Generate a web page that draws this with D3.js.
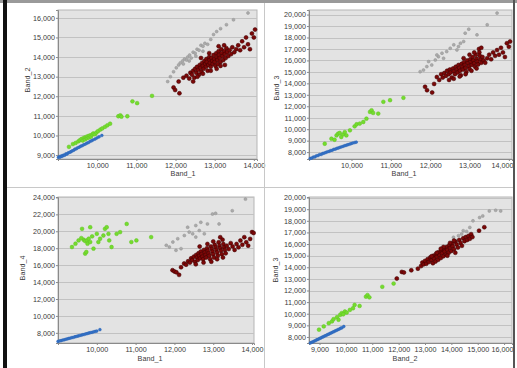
<!DOCTYPE html>
<html>
<head>
<meta charset="utf-8">
<script src="https://cdn.jsdelivr.net/npm/d3@7"></script>
<style>
  html, body { margin: 0; padding: 0; background: #fff; }
  svg { display: block; font-family: "Liberation Sans", Arial, sans-serif; }
</style>
</head>
<body>
<svg id="chart" width="517" height="368"></svg>
<script>
// ---- data: [x, y] pairs ----
// Panel 1: Band_1 vs Band_2
const p1Blue = [[9010,8880],[9040,8920],[9060,8900],[9090,8960],[9110,8940],[9140,9000],[9170,8990],[9200,9060],[9230,9050],[9260,9110],[9300,9140],[9330,9170],[9360,9210],[9400,9240],[9430,9300],[9470,9320],[9500,9370],[9540,9400],[9580,9450],[9620,9480],[9660,9530],[9700,9560],[9740,9610],[9780,9640],[9820,9700],[9860,9730],[9900,9780],[9950,9820],[10000,9880],[10050,9930],[10120,10000]];
const p1Green = [[9280,9420],[9380,9560],[9450,9620],[9520,9700],[9560,9760],[9600,9820],[9630,9740],[9660,9880],[9690,9800],[9710,9920],[9740,9860],[9760,9960],[9790,9900],[9810,10000],[9840,9940],[9870,10040],[9900,10100],[9940,10060],[9980,10150],[10020,10220],[10080,10300],[10130,10360],[10200,10440],[10260,10520],[10330,10600],[10540,10980],[10590,11030],[10620,10960],[10770,10980],[10900,11740],[11020,11650],[11400,12020]];
const p1Gray = [[11800,12750],[11870,13000],[11950,13250],[12020,13450],[12080,13600],[12120,13700],[12180,13800],[12230,13900],[12280,13850],[12310,14000],[12360,14100],[12400,13950],[12450,14250],[12500,14200],[12550,14400],[12600,14350],[12650,14600],[12700,14550],[12750,14700],[12820,14650],[12900,14900],[12970,15150],[13050,15300],[13150,15450],[13300,15650],[13480,15900],[13850,16250],[12200,13650],[12350,13800],[12520,14050],[12700,14300]];
const p1Red = [[11950,12450],[11990,12320],[12100,12150],[12080,12750],[12200,12950],[12280,13050],[12350,12900],[12380,13200],[12420,13100],[12450,13300],[12480,12950],[12500,13400],[12530,13200],[12550,13500],[12580,13350],[12600,13100],[12620,13600],[12640,13450],[12660,13250],[12680,13700],[12700,13550],[12720,13400],[12740,13800],[12760,13650],[12780,13500],[12790,13900],[12800,13750],[12820,13300],[12840,13600],[12860,14000],[12870,13850],[12880,13700],[12900,13500],[12920,13950],[12940,13800],[12950,13650],[12970,14100],[12990,13900],[13000,13750],[13020,13550],[13040,14200],[13050,14000],[13070,13850],[13080,13650],[13100,14300],[13110,14100],[13130,13950],[13150,13750],[13170,14400],[13180,14200],[13200,14050],[13220,13850],[13240,14600],[13250,14300],[13260,14150],[13280,13950],[13300,14450],[13320,14250],[13350,14050],[13380,14350],[13420,14150],[13450,14500],[13500,14250],[13550,14400],[13600,14600],[13650,14350],[13700,14800],[13750,14500],[13800,15000],[13850,14650],[13900,14400],[13950,15200],[14000,15000],[14030,15400],[12560,13000],[12700,13150],[12900,13300],[13050,13400],[13150,13550],[12450,12750],[13260,13600],[13100,14550],[12860,14200],[12650,13950]];

// Panel 2: Band_1 vs Band_3
const p2Blue = [[8950,7450],[8990,7480],[9030,7570],[9070,7580],[9110,7680],[9150,7700],[9190,7790],[9230,7800],[9270,7880],[9310,7920],[9350,7970],[9390,8030],[9430,8060],[9470,8130],[9510,8160],[9550,8240],[9590,8260],[9630,8330],[9670,8360],[9710,8420],[9750,8460],[9790,8510],[9830,8560],[9870,8600],[9910,8650],[9950,8690],[9990,8740],[10030,8790],[10080,8830],[10120,8870]];
const p2Green = [[9320,8730],[9490,9170],[9570,9080],[9620,9460],[9660,9610],[9700,9670],[9740,9320],[9790,9550],[9830,9750],[9870,9460],[9960,9900],[10080,10250],[10130,10430],[10210,10490],[10300,10630],[10380,10920],[10470,11510],[10510,11650],[10550,11420],[10680,11360],[10810,12390],[10980,12530],[11320,12740]];
const p2Gray = [[11745,15020],[11830,15160],[11915,15460],[11960,15900],[12040,15600],[12130,16040],[12210,16330],[12300,16630],[12340,16190],[12420,16770],[12510,17060],[12600,17360],[12680,16920],[12770,17500],[12850,17650],[12890,18380],[12980,18730],[13190,18230],[13450,19110],[13700,20130],[12720,17210],[12170,16480]];
const p2Red = [[11870,13700],[11920,13400],[12050,13200],[12100,13950],[12170,14550],[12230,14300],[12280,14800],[12320,14500],[12360,14900],[12400,14650],[12430,15100],[12470,14800],[12500,15200],[12520,14950],[12550,14500],[12580,15300],[12600,15050],[12630,14800],[12650,15450],[12680,15200],[12700,14950],[12720,15600],[12740,15350],[12760,15100],[12780,14700],[12800,15700],[12820,15450],[12840,15200],[12860,15850],[12880,15600],[12900,15350],[12920,15000],[12940,16000],[12960,15750],[12980,15500],[13000,15250],[13020,16100],[13040,15850],[13060,15600],[13080,16300],[13100,16000],[13120,15750],[13140,15450],[13160,16500],[13180,16150],[13200,15900],[13220,15650],[13240,17000],[13250,16700],[13260,16400],[13280,16100],[13300,15800],[13330,16300],[13360,16000],[13400,15800],[13450,16200],[13500,16500],[13550,16100],[13600,16700],[13650,16400],[13700,16900],[13750,16500],[13800,17100],[13850,16700],[13900,16300],[13950,17500],[14000,17200],[14030,17650],[12600,14400],[12750,14600],[12900,14800],[13050,15100],[13180,15300],[12480,14300],[12850,16200],[13000,16500],[13120,16700],[13300,17100]];

// Panel 3: Band_1 vs Band_4
const p3Blue = [[9000,6980],[9040,7040],[9080,7080],[9120,7140],[9160,7180],[9200,7240],[9240,7280],[9280,7340],[9320,7380],[9360,7440],[9400,7470],[9440,7540],[9480,7580],[9520,7630],[9560,7680],[9600,7720],[9640,7780],[9680,7820],[9720,7880],[9760,7920],[9800,7980],[9840,8020],[9880,8060],[9920,8120],[9960,8170],[10000,8210],[10080,8380]];
const p3Green = [[9360,18140],[9450,18530],[9530,18920],[9620,20290],[9660,19000],[9700,18840],[9745,18920],[9760,18530],[9790,19120],[9830,18730],[9700,17360],[9730,17560],[9915,17950],[10000,19700],[10040,18730],[10085,19120],[10170,19500],[10210,20290],[10255,20480],[10300,19700],[10320,18920],[10380,18140],[10510,19700],[10600,19900],[10770,20870],[10890,18730],[11020,18920],[11400,19310],[9830,20480],[9600,19200],[9880,19400]];
const p3Gray = [[11790,18340],[11870,18140],[11960,18730],[12040,17750],[12085,19120],[12170,17950],[12255,19500],[12340,20480],[12380,19900],[12470,19700],[12550,20680],[12640,20090],[12680,21060],[12770,19700],[12850,20870],[12980,22040],[13060,22120],[13150,20870],[13490,22430],[13830,23800],[12550,19310]];
const p3Red = [[11950,15400],[12000,15250],[12050,15150],[12120,14850],[12170,15750],[12250,16200],[12300,16050],[12350,16450],[12400,16300],[12430,16800],[12460,16600],[12500,17000],[12530,16400],[12560,17200],[12580,16900],[12600,16600],[12620,17400],[12640,17100],[12660,16800],[12680,17600],[12700,17300],[12720,17000],[12740,16700],[12760,17800],[12780,17500],[12800,17200],[12820,16900],[12840,18000],[12860,17700],[12880,17400],[12900,17100],[12920,16700],[12940,18200],[12960,17900],[12980,17600],[13000,17300],[13020,16900],[13040,18400],[13060,18100],[13080,17800],[13100,17500],[13120,17100],[13140,18700],[13160,18300],[13180,18000],[13200,17700],[13220,17300],[13240,19000],[13260,18500],[13280,18100],[13300,17800],[13320,17400],[13350,18300],[13400,17900],[13450,18600],[13500,18200],[13550,17800],[13600,18500],[13650,18100],[13700,18900],[13750,18400],[13800,19300],[13850,18700],[13900,18300],[13950,19100],[14000,19900],[14040,19800],[12550,16100],[12750,16300],[12950,16400],[13100,16700],[13250,16900],[12650,18200],[12850,18500],[13000,18800],[13180,19300]];

// Panel 4: Band_2 vs Band_3
const p4Blue = [[8650,7480],[8700,7540],[8750,7580],[8800,7650],[8850,7690],[8900,7760],[8950,7800],[9000,7870],[9050,7910],[9100,7980],[9150,8020],[9200,8090],[9250,8130],[9300,8200],[9350,8240],[9400,8310],[9450,8350],[9500,8420],[9550,8460],[9600,8530],[9650,8570],[9700,8640],[9750,8680],[9800,8750],[9850,8790],[9920,8900]];
const p4Green = [[8980,8630],[9160,8910],[9350,9190],[9470,9340],[9530,9530],[9660,9700],[9720,9480],[9780,9900],[9840,10050],[9960,10190],[10030,10100],[10150,10330],[10270,10470],[10330,10760],[10520,10670],[10760,11470],[10820,11610],[10890,11410],[11380,12320],[11810,12600],[9900,9950]];
const p4Gray = [[13590,15300],[13840,15720],[13960,16010],[14080,16580],[14270,16720],[14390,16860],[14450,17150],[14580,17090],[14700,17430],[14820,18000],[15070,18280],[15190,18420],[15440,18850],[15680,18910],[15870,18850],[14210,16290],[13720,15440]];
const p4Red = [[11930,13030],[12120,13600],[12200,13550],[12480,13740],[12730,13880],[12850,14100],[12900,14400],[12950,14250],[13000,14550],[13050,14300],[13100,14700],[13150,14450],[13200,14850],[13250,14600],[13300,14350],[13320,15000],[13350,14750],[13400,14500],[13420,15150],[13450,14900],[13500,14650],[13520,15300],[13550,15050],[13600,14800],[13620,15450],[13650,15200],[13700,14950],[13720,15600],[13750,15350],[13800,15100],[13820,15750],[13850,15500],[13900,15250],[13920,15900],[13950,15650],[14000,15400],[14020,16050],[14050,15800],[14100,15550],[14150,16200],[14200,15950],[14250,15700],[14300,16350],[14350,16100],[14400,15850],[14450,16500],[14500,16250],[14550,16600],[14600,16350],[14650,16700],[14700,16450],[14750,16850],[14800,16600],[15050,17150],[15250,17450],[13450,15250],[13700,15750],[13950,16100],[14100,16300],[13250,14950],[13850,15000],[14150,15250],[13600,15600]];

// tick values
const band1Ticks = [10000, 11000, 12000, 13000, 14000];
const band2XTicks = [9000, 10000, 11000, 12000, 13000, 14000, 15000, 16000];
const p1YTicks = [9000, 10000, 11000, 12000, 13000, 14000, 15000, 16000];
const p2YTicks = [8000, 9000, 10000, 11000, 12000, 13000, 14000, 15000, 16000, 17000, 18000, 19000, 20000];
const p3YTicks = [8000, 10000, 12000, 14000, 16000, 18000, 20000, 22000, 24000];

// ---- layout ----
const panels = [
  { rect: [58, 257, 10, 159], xDom: [9000, 14080], yDom: [8800, 16400], xTicks: band1Ticks, yTicks: p1YTicks,
    xTitle: "Band_1", yTitle: "Band_2", xt: [183, 176], yt: [30, 80],
    series: [p1Blue, p1Green, p1Gray, p1Red] },
  { rect: [309, 512, 10, 159], xDom: [8920, 14080], yDom: [7400, 20400], xTicks: band1Ticks, yTicks: p2YTicks,
    xTitle: "Band_1", yTitle: "Band_3", xt: [404, 176], yt: [279, 88],
    series: [p2Blue, p2Green, p2Gray, p2Red] },
  { rect: [58, 254, 197, 343], xDom: [9000, 14050], yDom: [6800, 24050], xTicks: band1Ticks, yTicks: p3YTicks,
    xTitle: "Band_1", yTitle: "Band_4", xt: [150, 361], yt: [25, 268],
    series: [p3Blue, p3Green, p3Gray, p3Red] },
  { rect: [309, 512, 197, 343], xDom: [8600, 16300], yDom: [7480, 20050], xTicks: band2XTicks, yTicks: p2YTicks,
    xTitle: "Band_2", yTitle: "Band_3", xt: [405, 361], yt: [278, 270],
    series: [p4Blue, p4Green, p4Gray, p4Red] }
];

const classStyles = [
  { fill: "#3473c8", stroke: "#2a62b4", r: 1.4 },
  { fill: "#74dc2e", stroke: "#60c322", r: 1.9 },
  { fill: "#aaaaaa", stroke: "#939393", r: 1.5 },
  { fill: "#7c0808", stroke: "#3a0000", r: 2.0 }
];

const svg = d3.select("#chart");
const fmt = d3.format(",");
const maxTextX = 513;

panels.forEach((p) => {
  const [left, right, top, bottom] = p.rect;
  const x = d3.scaleLinear().domain(p.xDom).range([left, right]);
  const y = d3.scaleLinear().domain(p.yDom).range([bottom, top]);
  const g = svg.append("g");

  g.append("rect")
    .attr("x", left).attr("y", top)
    .attr("width", right - left).attr("height", bottom - top)
    .attr("fill", "#e3e3e3").attr("stroke", "#b5b5b5");

  // horizontal grid
  g.selectAll(".grid").data(p.yTicks).join("line")
    .attr("x1", left).attr("x2", right)
    .attr("y1", (d) => Math.round(y(d)) + 0.5).attr("y2", (d) => Math.round(y(d)) + 0.5)
    .attr("stroke", "#c2c2c2").attr("stroke-width", 1);

  const xAxis = g.append("g").attr("transform", `translate(0,${bottom})`)
    .call(d3.axisBottom(x).tickValues(p.xTicks).tickFormat(fmt).tickSize(2).tickPadding(2));
  const yAxis = g.append("g").attr("transform", `translate(${left},0)`)
    .call(d3.axisLeft(y).tickValues(p.yTicks).tickFormat(fmt).tickSize(2).tickPadding(1));
  [xAxis, yAxis].forEach((a) => {
    a.select(".domain").attr("stroke", "#8a8a8a");
    a.selectAll(".tick line").attr("stroke", "#8a8a8a");
    a.selectAll("text").attr("font-size", 7.2).attr("fill", "#3a3a3a").attr("font-family", "Liberation Sans, Arial, sans-serif");
  });
  // keep the last label inside the picture if it would run past the right frame
  xAxis.selectAll(".tick text").each(function (d) {
    const half = this.getComputedTextLength() / 2;
    if (x(d) + half > maxTextX) {
      d3.select(this).attr("text-anchor", "end").attr("x", maxTextX - x(d));
    }
  });

  p.series.forEach((pts, i) => {
    const s = classStyles[i];
    g.append("g").selectAll("circle").data(pts).join("circle")
      .attr("cx", (d) => x(d[0]))
      .attr("cy", (d) => y(d[1]))
      .attr("r", s.r)
      .attr("fill", s.fill)
      .attr("stroke", s.stroke)
      .attr("stroke-width", 0.5);
  });

  g.append("text")
    .attr("x", p.xt[0]).attr("y", p.xt[1])
    .attr("text-anchor", "middle").attr("font-size", 7.2).attr("fill", "#3a3a3a")
    .text(p.xTitle);
  g.append("text")
    .attr("transform", `translate(${p.yt[0]},${p.yt[1]}) rotate(-90)`)
    .attr("text-anchor", "middle").attr("font-size", 7.2).attr("fill", "#3a3a3a")
    .text(p.yTitle);
});

// outer frame and dividers, drawn last so they sit on top
svg.append("rect").attr("x", 0).attr("y", 0).attr("width", 517).attr("height", 3).attr("fill", "#9a9a9a");
svg.append("rect").attr("x", 3).attr("y", 0).attr("width", 4).attr("height", 368).attr("fill", "#111");
svg.append("rect").attr("x", 513).attr("y", 0).attr("width", 2).attr("height", 368).attr("fill", "#555");
svg.append("line").attr("x1", 7).attr("x2", 513).attr("y1", 187.5).attr("y2", 187.5).attr("stroke", "#c8c8c8");
svg.append("line").attr("x1", 264.5).attr("x2", 264.5).attr("y1", 3).attr("y2", 368).attr("stroke", "#c8c8c8");
</script>
</body>
</html>
